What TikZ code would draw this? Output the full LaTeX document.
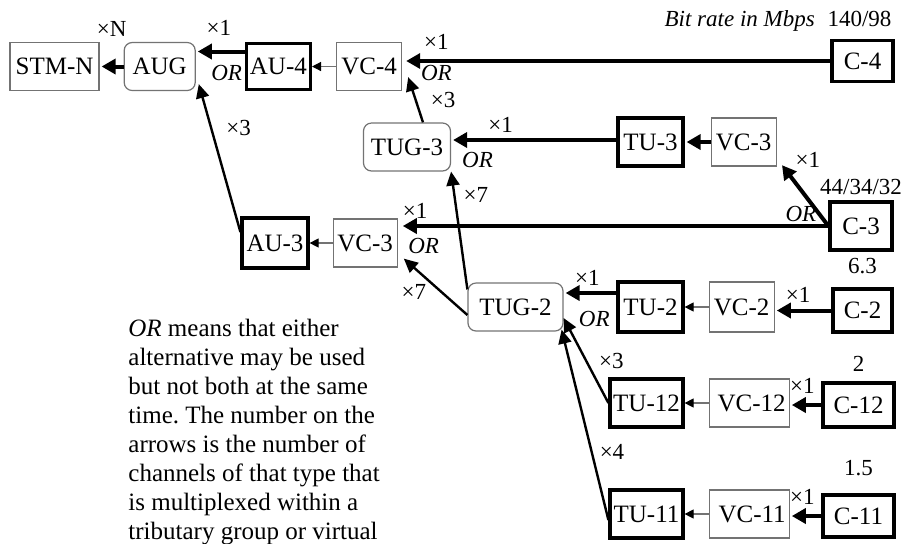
\documentclass[tikz,border=0pt]{standalone}
\usepackage{fontspec}
\setmainfont{Liberation Serif}
\usetikzlibrary{positioning,arrows.meta}

\begin{document}
\frenchspacing
\begin{tikzpicture}[x=1pt, y=1pt, node distance={12pt},
		box/.style = {font=\fontsize{12.5}{14.45}\selectfont, minimum height=24pt, inner sep=1.5pt},
		thinbox/.style = {box, draw=black!55, line width=0.6pt},
		thickbox/.style = {box, draw, line width=1.6pt},
		groupbox/.style = {box, draw=black!55, line width=0.6pt, rounded corners=4pt},
		lab/.style = {font=\fontsize{11.5}{13}\selectfont, inner sep=1pt},
		orlab/.style = {lab, font=\fontsize{11.5}{13}\selectfont\itshape},
		heavy/.style = {line width=2pt, -{Triangle[length=7pt, width=7.5pt]}, shorten >=1pt},
		medium/.style = {line width=1.2pt, -{Triangle[length=7pt, width=6.5pt]}},
		light/.style = {draw=black!55, line width=0.6pt, -{Triangle[length=4.5pt, width=4.5pt, color=black]}}]
			\useasboundingbox (0,0) rectangle (452,-271.5);
			% top row
			\node[thinbox, minimum width=44.5pt] (stm) at (27.25,-33.25) {STM-N};
			\node[groupbox, minimum width=35.5pt] (aug) [right=12pt of stm] {AUG};
			\node[thickbox, minimum width=32pt, minimum height=23pt] (au4) [right=24.5pt of aug] {AU-4};
			\node[thinbox, minimum width=32.5pt] (vc4) [right=12pt of au4] {VC-4};
			\node[thickbox, minimum width=30.5pt, minimum height=20.5pt] (c4) at (431.25,-30.5) {C-4};
			% TUG-3 row
			\node[groupbox, minimum width=43.5pt] (tug3) at (203.5,-73.5) {TUG-3};
			\node[thickbox, minimum width=32.5pt] (tu3) at (325.25,-71) {TU-3};
			\node[thinbox, minimum width=32.5pt] (vc3a) [right=13pt of tu3] {VC-3};
			\node[thickbox, minimum width=31pt] (c3) at (430.5,-113) {C-3};
			% AU-3 row
			\node[thickbox, minimum width=33pt, minimum height=25pt] (au3) at (137.5,-121.5) {AU-3};
			\node[thinbox, minimum width=32pt] (vc3b) [right=11.5pt of au3] {VC-3};
			% TUG-2 row
			\node[groupbox, minimum width=47.5pt] (tug2) at (257.75,-153.5) {TUG-2};
			\node[thickbox, minimum width=32.5pt, minimum height=25pt] (tu2) at (325.25,-153.5) {TU-2};
			\node[thinbox, minimum width=32.5pt, minimum height=25pt] (vc2) [right=12pt of tu2] {VC-2};
			\node[thickbox, minimum width=29.5pt, minimum height=21.5pt] (c2) at (431.25,-155.25) {C-2};
			% TU-12 and TU-11 rows
			\node[thickbox, minimum width=36.5pt] (tu12) at (323.25,-201.5) {TU-12};
			\node[thinbox, minimum width=40pt, text width=36.5pt, align=right] (vc12) [right=12pt of tu12] {\raisebox{-6pt}{VC-12}};
			\node[thickbox, minimum width=35.5pt, minimum height=22pt] (c12) at (429.25,-202.5) {C-12};
			\node[thickbox, minimum width=36.5pt] (tu11) at (323.25,-257) {TU-11};
			\node[thinbox, minimum width=40pt, text width=36.5pt, align=right] (vc11) [right=12pt of tu11] {\raisebox{-6pt}{VC-11}};
			\node[thickbox, minimum width=35.5pt, minimum height=21pt] (c11) at (429.25,-258) {C-11};
			% bit rates
			\node[lab] (r4) [above=5pt of c4, xshift=-1.5pt] {140/98};
			\node[orlab, anchor=base east] (rate) at ([xshift=-4pt]r4.base west) {Bit rate in Mbps};
			\node[lab] (r3) [above=1.5pt of c3] {44/34/32};
			\node[lab] (r2) [above=5.5pt of c2] {6.3};
			\node[lab] (r12) [above=4pt of c12] {2};
			\node[lab] (r11) [above=7.5pt of c11] {1.5};
			% note
			\node[box, minimum height=0pt, inner sep=0pt, align=left, anchor=north west] (note) at (64,-159.6) {\textit{OR} means that either\\alternative may be used\\but not both at the same\\time. The number on the\\arrows is the number of\\channels of that type that\\is multiplexed within a\\tributary group or virtual};
			% connectors
			\draw[heavy] (aug) -- (stm) node[lab, midway, above=13pt] {×N};
			\draw[heavy] ([yshift=7.5pt]au4.west) -- ([yshift=7.5pt]au4.west -| aug.east) node[lab, pos=0.53, above=6pt] {×1} node[orlab, pos=0.37, below=5pt] {OR};
			\draw[light] (vc4) -- (au4);
			\draw[heavy, shorten >=2pt] (c4.west) -- (c4.west -| vc4.east) node[lab, pos=0.92, above=4pt] {×1} node[orlab, pos=0.92, below=0pt] {OR};
			\draw[medium] ([xshift=8pt]tug3.north) -- ([xshift=3pt, yshift=7pt]vc4.south east) node[lab, midway, right=6pt] {×3};
			\draw[medium] ([yshift=5.5pt]au3.west) -- ([xshift=1.5pt, yshift=3.5pt]aug.south east) node[lab, pos=0.7, right=6pt] {×3};
			\draw[heavy] ([yshift=1pt]tu3.west) -- ([yshift=1pt]tu3.west -| tug3.east) node[lab, pos=0.7, above=2pt] {×1} node[orlab, pos=0.84, below=4pt] {OR};
			\draw[heavy] (vc3a) -- (tu3);
			\draw[heavy] (c3.west) -- ([xshift=2pt, yshift=1.5pt]vc3a.south east) node[lab, pos=0.9, right=3pt, yshift=5pt] {×1};
			\draw[heavy, shorten >=2.5pt] (c3.west) -- (c3.west -| vc3b.east) node[orlab, pos=0.064, above=0pt] {OR} node[lab, pos=0.96, above=2pt] {×1} node[orlab, pos=0.94, below=4pt] {OR};
			\draw[light] (vc3b) -- (au3);
			\draw[medium] ([yshift=-4pt]tug2.west) -- ([xshift=3pt, yshift=4.5pt]vc3b.south east) node[lab, pos=0.6, below left=0pt] {×7};
			\draw[medium] ([yshift=-3.5pt]tug2.north west) -- (tug3.south east) node[lab, pos=0.8, right=3pt] {×7};
			\draw[heavy] ([yshift=7pt]tu2.west) -- ([yshift=7pt]tu2.west -| tug2.east) node[lab, pos=0.55, above=2pt] {×1} node[orlab, pos=0.42, below=7pt] {OR};
			\draw[light] (vc2) -- (tu2);
			\draw[heavy] (c2.west) -- (c2.west -| vc2.east) node[lab, pos=0.59, above=2pt] {×1};
			\draw[medium] (tu12.west) -- ([yshift=-5.5pt]tug2.east) node[lab, midway, right=5pt] {×3};
			\draw[medium] ([yshift=-3pt]tu11.west) -- ([xshift=-1pt, yshift=1pt]tug2.south east) node[lab, pos=0.36, right=2.5pt] {×4};
			\draw[light] (vc12) -- (tu12);
			\draw[heavy] (c12.west) -- (c12.west -| vc12.east) node[lab, pos=0.6, above=4pt] {×1};
			\draw[light] (vc11) -- (tu11);
			\draw[heavy] (c11.west) -- (c11.west -| vc11.east) node[lab, pos=0.6, above=4pt] {×1};
		\end{tikzpicture}
\end{document}
